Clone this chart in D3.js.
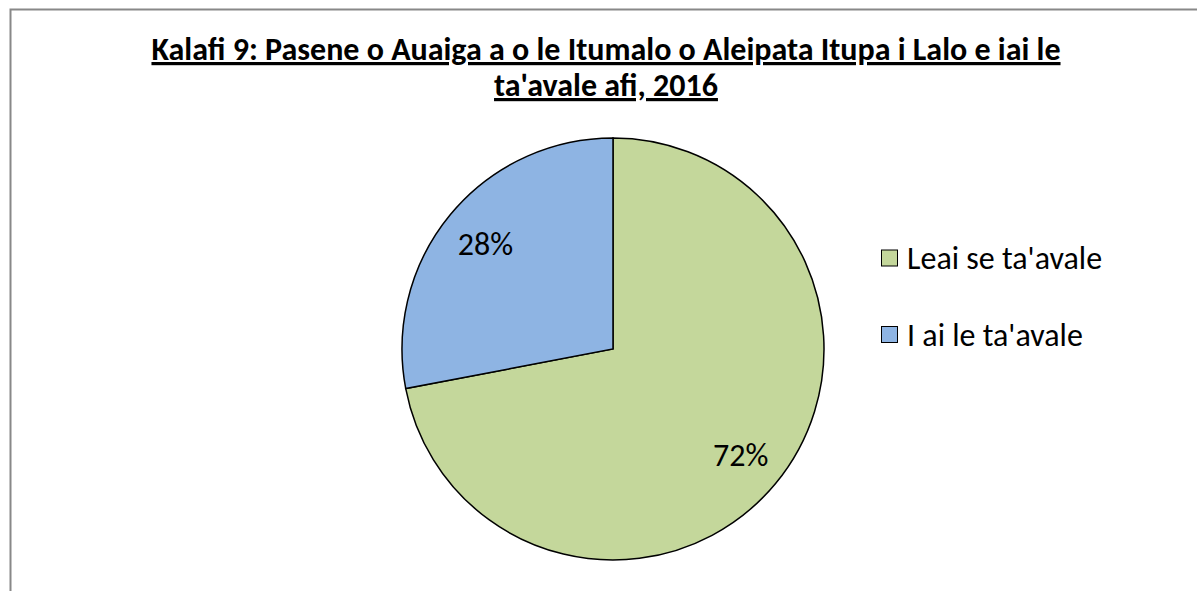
<!DOCTYPE html>
<html><head><meta charset="utf-8">
<script src="https://cdn.jsdelivr.net/npm/d3@7"></script>
<style>body{margin:0;background:#fff}svg{display:block}text{font-family:Carlito,Calibri,Lato,"Open Sans",sans-serif}</style>
</head><body>
<svg id="c" width="1197" height="591"></svg>
<script>
const categories = ["Leai se ta'avale", "I ai le ta'avale"];
const values = [72, 28];
const colors = ["#C4D79B", "#8EB4E3"];
const titleLines = ["Kalafi 9: Pasene o Auaiga a o le Itumalo o Aleipata Itupa i Lalo e iai le", "ta'avale afi, 2016"];

const svg = d3.select("#c");
svg.append("rect").attr("x",10.5).attr("y",9.5).attr("width",1300).attr("height",700)
  .attr("fill","#fff").attr("stroke","#888").attr("stroke-width",2);

const tg = svg.append("g");
titleLines.forEach((t,i)=>{
  tg.append("text").attr("x",606).attr("y",60+i*36).attr("text-anchor","middle")
    .attr("font-size",32).attr("font-weight","bold").attr("text-decoration","underline")
    .attr("fill","#000").text(t);
});

const cx=613, cy=349, r=211;
const pie = d3.pie().sort(null).value(d=>d.v);
const data = pie(categories.map((c,i)=>({c, v:values[i], col:colors[i]})));
const arc = d3.arc().innerRadius(0).outerRadius(r);
const g = svg.append("g").attr("transform",`translate(${cx},${cy})`);
g.selectAll("path").data(data).join("path").attr("d",arc)
  .attr("fill",d=>d.data.col).attr("stroke","#000").attr("stroke-width",1.5);
const lab = d3.arc().innerRadius(r*0.785).outerRadius(r*0.785);
g.selectAll("text.l").data(data).join("text").attr("class","l")
  .attr("transform",d=>`translate(${lab.centroid(d)})`)
  .attr("text-anchor","middle").attr("dy","0.35em").attr("font-size",32).attr("fill","#000")
  .text(d=>d.data.v+"%");

const lg = svg.append("g");
categories.forEach((c,i)=>{
  const y = 258 + i*76.5;
  lg.append("rect").attr("x",881.5).attr("y",y-8).attr("width",16).attr("height",16)
    .attr("fill",colors[i]).attr("stroke","#000").attr("stroke-width",1);
  lg.append("text").attr("x",907).attr("y",y).attr("dy","0.35em").attr("font-size",32).attr("fill","#000").text(c);
});
</script>
</body></html>
